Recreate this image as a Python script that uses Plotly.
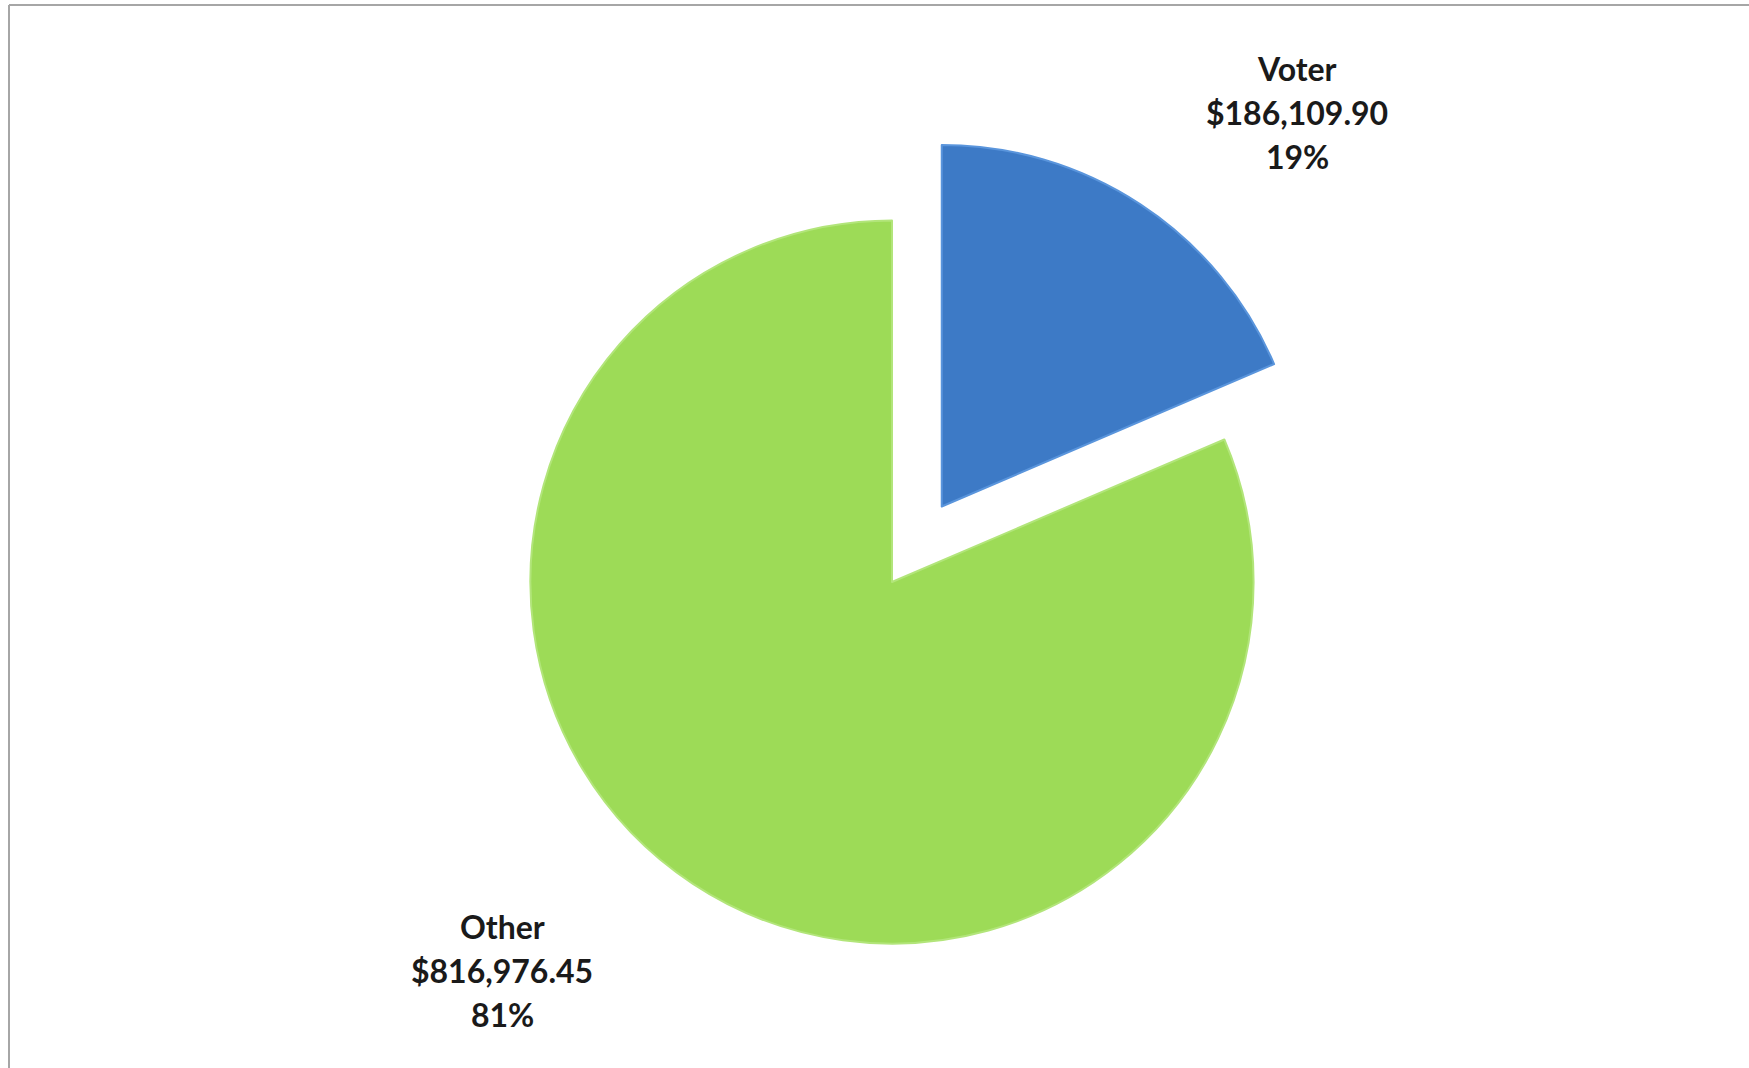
import plotly.graph_objects as go

W, H = 1749, 1068

# data
labels = ['Voter', 'Other']
amounts = [186109.90, 816976.45]
percent_labels = ['19%', '81%']
slice_colors = ['#3d7ac6', '#9ddb57']
edge_colors = ['#5a95dc', '#b2e57a']


def money(v):
    return '${:,.2f}'.format(v)


fig = go.Figure()

fig.add_trace(go.Pie(
    labels=labels,
    values=amounts,
    sort=False,
    direction='clockwise',
    rotation=0,
    pull=[0.25, 0],
    textinfo='none',
    hoverinfo='label+value+percent',
    marker=dict(colors=slice_colors, line=dict(color=edge_colors, width=2)),
    showlegend=False,
    domain=dict(x=[0.1, 0.92], y=[1 - 1034 / H, 1 - 130 / H]),
))

# data labels, one line per annotation to get the wide line spacing
label_pos = {'Voter': (1297, 69), 'Other': (502, 926)}
line_gap = 44
for name, amt, pct in zip(labels, amounts, percent_labels):
    px0, py0 = label_pos[name]
    for i, txt in enumerate([name, money(amt), pct]):
        fig.add_annotation(
            x=px0 / W, y=1 - (py0 + i * line_gap) / H,
            xref='paper', yref='paper',
            text='<b>%s</b>' % txt,
            showarrow=False,
            xanchor='center', yanchor='middle',
            font=dict(family='Lato', size=32, color='#1a1a1a'),
        )

# chart frame (top and left edges visible)
fig.add_shape(type='line', xref='paper', yref='paper',
              x0=9 / W, x1=1, y0=1 - 5 / H, y1=1 - 5 / H,
              line=dict(color='#a6a6a6', width=2))
fig.add_shape(type='line', xref='paper', yref='paper',
              x0=9 / W, x1=9 / W, y0=0, y1=1 - 5 / H,
              line=dict(color='#a6a6a6', width=2))

fig.update_layout(
    width=W,
    height=H,
    margin=dict(l=0, r=0, t=0, b=0),
    paper_bgcolor='white',
    plot_bgcolor='white',
)

# drop the browser's default body margin so the figure sits at 0,0
fig.write_html("out.html", config={'displayModeBar': False},
               post_script="document.body.style.margin='0';")
